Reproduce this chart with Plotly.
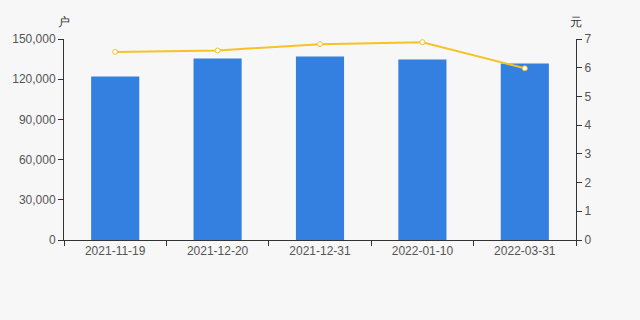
import plotly.graph_objects as go

categories = ["2021-11-19", "2021-12-20", "2021-12-31", "2022-01-10", "2022-03-31"]
holders = [122000, 135500, 136900, 134700, 131700]
price = [6.55, 6.60, 6.82, 6.89, 5.98]
left_ticks = [0, 30000, 60000, 90000, 120000, 150000]
right_ticks = [0, 1, 2, 3, 4, 5, 6, 7]

fig = go.Figure()
fig.add_trace(go.Bar(x=categories, y=holders, marker=dict(color="#3480e0", line=dict(width=0)),
                     width=0.47, yaxis="y", showlegend=False))
fig.add_trace(go.Scatter(x=categories, y=price, yaxis="y2", mode="lines+markers",
                         line=dict(color="#f5c325", width=2),
                         marker=dict(size=5, color="#ffffff", line=dict(color="#f5c325", width=1)),
                         showlegend=False))

font = dict(family="Liberation Sans, Arial, sans-serif", size=12, color="#555555")
fig.update_layout(
    width=640, height=320,
    margin=dict(l=64, r=64, t=39, b=80),
    paper_bgcolor="#f7f7f7", plot_bgcolor="#f7f7f7",
    font=font,
    xaxis=dict(type="category", showline=True, linecolor="#333333", linewidth=1,
               ticks="outside", tickson="boundaries", ticklen=5, tickcolor="#333333",
               showgrid=False, tickfont=dict(size=12, color="#555555")),
    yaxis=dict(range=[0, 150000], tickvals=left_ticks, tickformat=",", showline=True,
               linecolor="#333333", ticks="outside", ticklen=5, tickcolor="#333333",
               showgrid=False, zeroline=False, tickfont=dict(size=12, color="#555555")),
    yaxis2=dict(range=[0, 7], tickvals=right_ticks, overlaying="y", side="right",
                showline=True, linecolor="#333333", ticks="outside", ticklen=5,
                tickcolor="#333333", showgrid=False, zeroline=False,
                tickfont=dict(size=12, color="#555555")),
    annotations=[
        dict(text="户", xref="paper", yref="paper", x=0.0, y=1.085, xanchor="center",
             yanchor="middle", showarrow=False, font=dict(size=12, color="#333333")),
        dict(text="元", xref="paper", yref="paper", x=1.0, y=1.085, xanchor="center",
             yanchor="middle", showarrow=False, font=dict(size=12, color="#333333")),
    ],
)
fig.write_html("out.html")
